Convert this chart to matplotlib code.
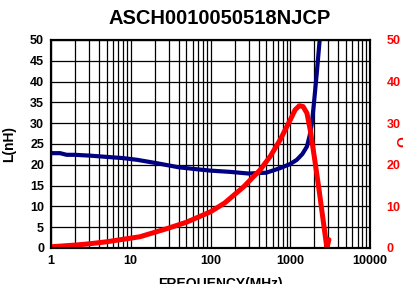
import matplotlib
matplotlib.use("Agg")
import matplotlib.pyplot as plt
from matplotlib.ticker import FixedLocator, NullFormatter

plt.rcParams['font.family'] = ['Liberation Sans', 'DejaVu Sans']
plt.rcParams['font.weight'] = 'bold'

title = "ASCH0010050518NJCP"

# inductance curve (nH)
freq_l = [1, 1.3, 1.57, 2, 3.1, 5, 8.1, 12, 21, 40, 70, 100, 176, 300, 500,
          747, 1000, 1210, 1420, 1620, 1750, 1870, 2000, 2150, 2350]
ind_l = [22.8, 22.8, 22.4, 22.4, 22.2, 21.9, 21.6, 21.2, 20.4, 19.4, 18.9, 18.6,
         18.3, 17.9, 18.1, 19.2, 20.2, 21.2, 22.6, 24.4, 27.0, 30.0, 35.6, 42.0, 50.5]

# quality factor
freq_q = [1, 2, 3, 5, 13, 21, 30, 50, 100, 150, 260, 418, 560, 747, 1000, 1150,
          1300, 1450, 1620, 1780, 2000, 2270, 2880, 3050]
q_vals = [0.3, 0.7, 1.0, 1.5, 2.7, 3.9, 4.8, 6.2, 8.7, 10.8, 14.7, 18.75, 22.0,
          26.0, 30.8, 33.2, 34.2, 34.0, 32.4, 28.4, 22.0, 14.7, 0.0, 2.0]

left_ticks = list(range(0, 55, 5))
right_ticks = list(range(0, 60, 10))
x_ticks = [1, 10, 100, 1000, 10000]
x_labels = ["1", "10", "100", "1000", "10000"]

fig = plt.figure(figsize=(4.03, 2.84), dpi=100)
ax = fig.add_axes([51 / 403, 36 / 284, 319 / 403, 208 / 284])

ax.set_xscale('log')
ax.set_xlim(1, 10000)
ax.set_ylim(0, 50)
ax.set_xticks(x_ticks)
ax.set_xticklabels(x_labels)
minors = [m * 10 ** d for d in range(4) for m in range(2, 10)]
ax.xaxis.set_minor_locator(FixedLocator(minors))
ax.xaxis.set_minor_formatter(NullFormatter())
ax.set_yticks(left_ticks)
ax.grid(True, which='both', axis='x', color='black', lw=0.9)
ax.grid(True, which='major', axis='y', color='black', lw=0.9)
ax.tick_params(which='both', length=0, labelsize=9, pad=5)
for s in ax.spines.values():
    s.set_linewidth(1.5)

ax.plot(freq_l, ind_l, color='#000080', lw=3.0, solid_capstyle='butt', clip_on=True)
ax.set_ylabel("L(nH)", fontsize=10, fontweight='bold')
ax.yaxis.set_label_coords(-0.11, 0.5)

ax2 = ax.twinx()
ax2.set_ylim(0, 50)
ax2.set_yticks(right_ticks)
ax2.tick_params(length=0, labelsize=9, labelcolor='red', pad=12)
ax2.plot(freq_q, q_vals, color='red', lw=3.6, solid_capstyle='round')
for s in ax2.spines.values():
    s.set_linewidth(1.5)

fig.text(220 / 403, 1 - 19 / 284, title, ha='center', va='center',
         fontsize=14.5, fontweight='bold')
fig.text(220 / 403, 1 - 284 / 284, "FREQUENCY(MHz)", ha='center', va='center',
         fontsize=10, fontweight='bold')
fig.text(403 / 403, 0.5, "Q", ha='center', va='center', color='red',
         fontsize=10, fontweight='bold', rotation=90)

fig.savefig("out.png", dpi=100)
